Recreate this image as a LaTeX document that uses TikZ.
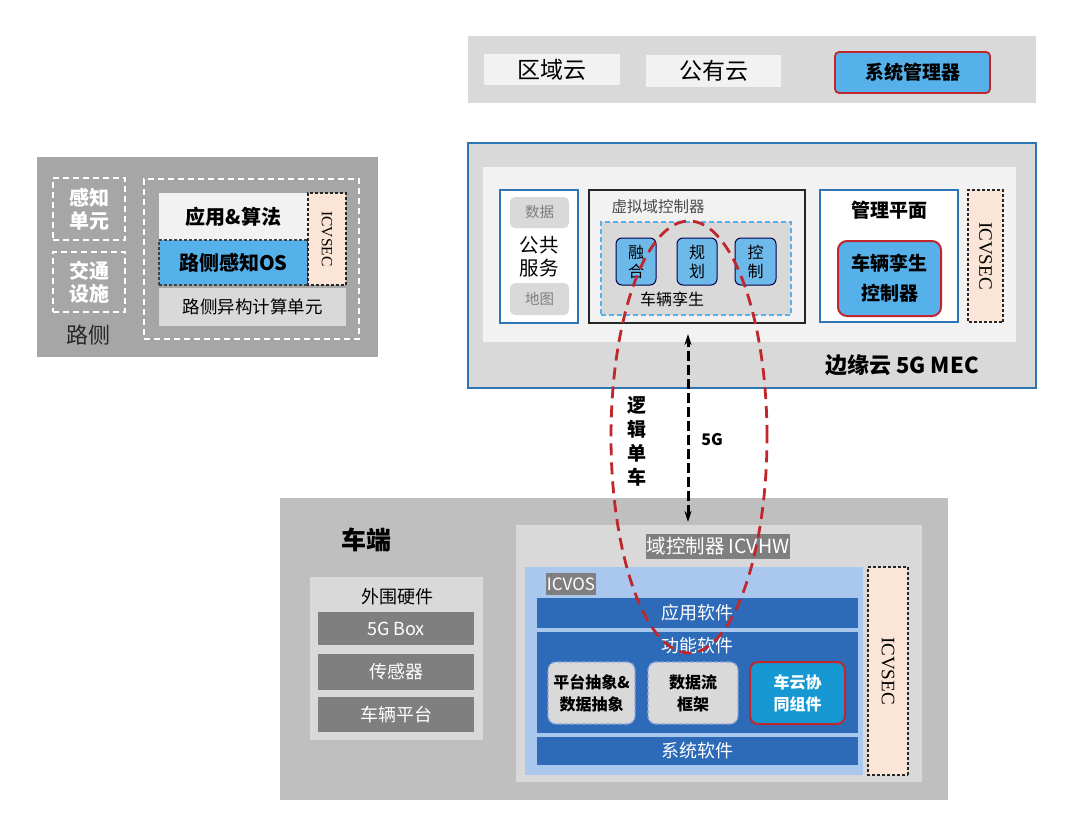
\documentclass[tikz,border=0pt]{standalone}
\usepackage{fontspec}
\setmainfont{Noto Sans CJK SC}
\newfontfamily\serifont{Liberation Serif}
\usetikzlibrary{shapes.geometric,arrows.meta}
\definecolor{cgray}{HTML}{D9D9D9}
\definecolor{clight}{HTML}{F2F2F2}
\definecolor{cblue}{HTML}{56B1EA}
\definecolor{cblue2}{HTML}{6DBAEA}
\definecolor{cred}{HTML}{C0272D}
\definecolor{rgray}{HTML}{A6A6A6}
\definecolor{vgray}{HTML}{BFBFBF}
\definecolor{dgray}{HTML}{7F7F7F}
\definecolor{cedge}{HTML}{2E75B6}
\definecolor{peach}{HTML}{FBE5D6}
\definecolor{oslblue}{HTML}{AAC8EE}
\definecolor{dblue}{HTML}{2D6BB8}
\definecolor{ccyan}{HTML}{1699D2}
\definecolor{dashb}{HTML}{8AA4DA}
\definecolor{dtext}{HTML}{262626}
\newcommand{\fs}[2]{\fontsize{#1}{#2}\selectfont}
\newcommand{\bfs}[2]{\fontsize{#1}{#2}\selectfont\bfseries}
\newcommand{\mybox}[7]{\node[#6, inner sep=0pt, outer sep=0pt, align=center, minimum width={(#4-#2)*1pt}, minimum height={(#5-#3)*1pt}] (#1) at ({(#2+#4)/2},{(#3+#5)/2}) {#7};}
\tikzset{
  whdash/.style={draw=white, line width=2pt, dash pattern=on 6pt off 4pt, text=white},
  secbox/.style={fill=peach, draw=black!85, line width=1.3pt, dash pattern=on 3pt off 2pt, rotate=-90, inner sep=0pt, font=\serifont\fontsize{19}{22}\selectfont},
  barbox/.style={fill=dblue, text=white, font=\fs{18}{21}},
  hwbox/.style={fill=dgray, text=white, font=\fs{18}{21}},
  smallbox/.style={fill=cblue2, draw=black!70!blue, line width=1pt, rounded corners=6pt, font=\fs{16}{19}},
  absbox/.style={fill=cgray, draw=dashb, line width=1.3pt, dash pattern=on 4pt off 2pt, rounded corners=8pt, font=\bfs{16}{22}},
  lbl/.style={inner sep=0pt}
}
\begin{document}
\begin{tikzpicture}[x=1pt,y=-1pt]
\useasboundingbox (0,0) rectangle (1080,822);
\fill[white] (0,0) rectangle (1080,822);
% ---------------- top clouds
\mybox{topbar}{468}{36}{1036}{103}{fill=cgray}{}
\mybox{qyy}{484}{54}{620}{85}{fill=clight, font=\fs{23}{26}}{区域云}
\mybox{gyy}{646}{55}{781}{87}{fill=clight, font=\fs{23}{26}}{公有云}
\mybox{xtg}{835}{52}{990}{93}{fill=cblue, draw=cred, line width=1.8pt, rounded corners=4pt, font=\bfs{19}{22}}{系统管理器}
% ---------------- roadside
\mybox{road}{37}{157}{378}{357}{fill=rgray}{}
\mybox{gzdy}{53}{178}{125}{240}{whdash, font=\bfs{20}{23}}{感知\\单元}
\mybox{jtss}{53}{252}{125}{312}{whdash, font=\bfs{20}{23}}{交通\\设施}
\node[lbl, text=dtext, font=\fs{22}{25}] (rlab) at (88,335) {路侧};
\mybox{rbig}{144}{179}{359}{339}{draw=white, line width=2pt, dash pattern=on 6pt off 4pt}{}
\mybox{yysf}{159}{193}{308}{240}{fill=clight, font=\bfs{20}{23}}{应用\&算法}
\mybox{rcos}{159}{240}{308}{285}{fill=cblue, draw=black!75, line width=1.3pt, dash pattern=on 3pt off 2pt, font=\bfs{20}{23}}{路侧感知OS}
\node[secbox, font=\serifont\fontsize{15.5}{18}\selectfont, minimum width=92pt, minimum height=38pt] (rsec) at (327,239) {ICVSEC};
\mybox{ryg}{159}{288}{346}{326}{fill=cgray, font=\fs{17.5}{20}}{路侧异构计算单元}
% ---------------- edge cloud
\mybox{edge}{468}{143}{1036}{388}{fill=cgray, draw=cedge, line width=2pt}{}
\mybox{einner}{483}{167}{1016}{342}{fill=clight}{}
\mybox{ggfw}{500}{190}{578}{323}{fill=white, draw=cedge, line width=1.5pt, font=\fs{19.5}{23}}{公共\\服务}
\mybox{sj}{510}{197}{569}{228}{fill=cgray, rounded corners=5pt, text=dgray, font=\fs{14.5}{16}}{数据}
\mybox{dt}{510}{283}{569}{315}{fill=cgray, rounded corners=5pt, text=dgray, font=\fs{14.5}{16}}{地图}
\mybox{vdc}{589}{190}{805}{323}{fill=clight, draw=black!85, line width=2pt}{}
\node[lbl, text=black!70, font=\fs{15.5}{18}] (vdcl) at (658,207) {虚拟域控制器};
\mybox{twin}{601}{222}{791}{315}{fill=cgray, draw=cblue, line width=1.8pt, dash pattern=on 5pt off 3pt}{}
\mybox{rh}{616}{238}{656}{285}{smallbox}{融\\合}
\mybox{gh}{677}{238}{717}{285}{smallbox}{规\\划}
\mybox{kz}{735}{238}{776}{285}{smallbox}{控\\制}
\node[lbl, font=\fs{16}{19}] (twl) at (672,299) {车辆孪生};
\mybox{glpm}{820}{190}{958}{322}{fill=white, draw=cedge, line width=1.5pt}{}
\node[lbl, font=\bfs{19}{22}] (glpml) at (889,210) {管理平面};
\mybox{twc}{838}{241}{941}{316}{fill=cblue, draw=cred, line width=2pt, rounded corners=9pt, font=\bfs{19}{30}}{车辆孪生\\控制器}
\node[secbox, minimum width=132pt, minimum height=35pt] (esec) at (985.5,256) {ICVSEC};
\node[lbl, font=\bfs{22}{25}] (edgel) at (902,365) {边缘云 5G MEC};
% ---------------- vehicle
\mybox{veh}{280}{498}{948}{800}{fill=vgray}{}
\node[lbl, font=\bfs{25}{28}] (vlab) at (366,540) {车端};
\mybox{wwyj}{310}{577}{483}{740}{fill=cgray}{}
\node[lbl, font=\fs{18}{21}] (wwl) at (397,597) {外围硬件};
\mybox{g5}{318}{612}{474}{645}{hwbox}{5G Box}
\mybox{cgq}{318}{654}{474}{690}{hwbox}{传感器}
\mybox{clpt}{318}{697}{474}{732}{hwbox}{车辆平台}
\mybox{dcu}{516}{525}{922}{782}{fill=cgray}{}
\node[fill=dgray, text=white, inner xsep=1pt, inner ysep=0pt, minimum height=25pt, font=\fs{19.5}{22}] (hwl) at (718,546) {域控制器 ICVHW};
\mybox{icvos}{525}{567}{863}{775}{fill=oslblue}{}
\node[fill=dgray, text=white, inner xsep=1pt, inner ysep=0pt, minimum height=22pt, font=\fs{17}{20}] (osl) at (571,584) {ICVOS};
\mybox{yyrj}{537}{598}{858}{628}{barbox}{应用软件}
\mybox{gnrj}{537}{632}{858}{733}{fill=dblue}{}
\node[lbl, text=white, font=\fs{18}{21}] (gnl) at (697,646) {功能软件};
\mybox{ptcx}{548}{662}{635}{724}{absbox}{平台抽象\&\\数据抽象}
\mybox{sjl}{648}{662}{738}{724}{absbox}{数据流\\框架}
\mybox{cyx}{750}{662}{845}{724}{fill=ccyan, draw=cred, line width=2pt, rounded corners=8pt, text=white, font=\bfs{16}{22}}{车云协\\同组件}
\mybox{xtrj}{537}{737}{858}{765}{barbox}{系统软件}
\node[secbox, minimum width=208pt, minimum height=40pt] (vsec) at (888,671) {ICVSEC};
% ---------------- link
\coordinate (atop) at (688,334);
\coordinate (abot) at (688,522);
\draw[line width=3pt, dash pattern=on 10pt off 4pt, {Stealth[length=11pt,width=7pt]}-{Stealth[length=11pt,width=7pt]}] (abot) -- (atop);
\node[lbl, font=\bfs{16}{18}] (g5l) at (712,440) {5G};
\node[lbl, align=center, font=\bfs{19}{24}] (ljdc) at (637,441) {逻\\辑\\单\\车};
\node[ellipse, draw=cred, line width=2.8pt, dash pattern=on 12pt off 7pt, minimum width=156pt, minimum height=432pt, inner sep=0pt] (loop) at (689,437) {};
\end{tikzpicture}
\end{document}
